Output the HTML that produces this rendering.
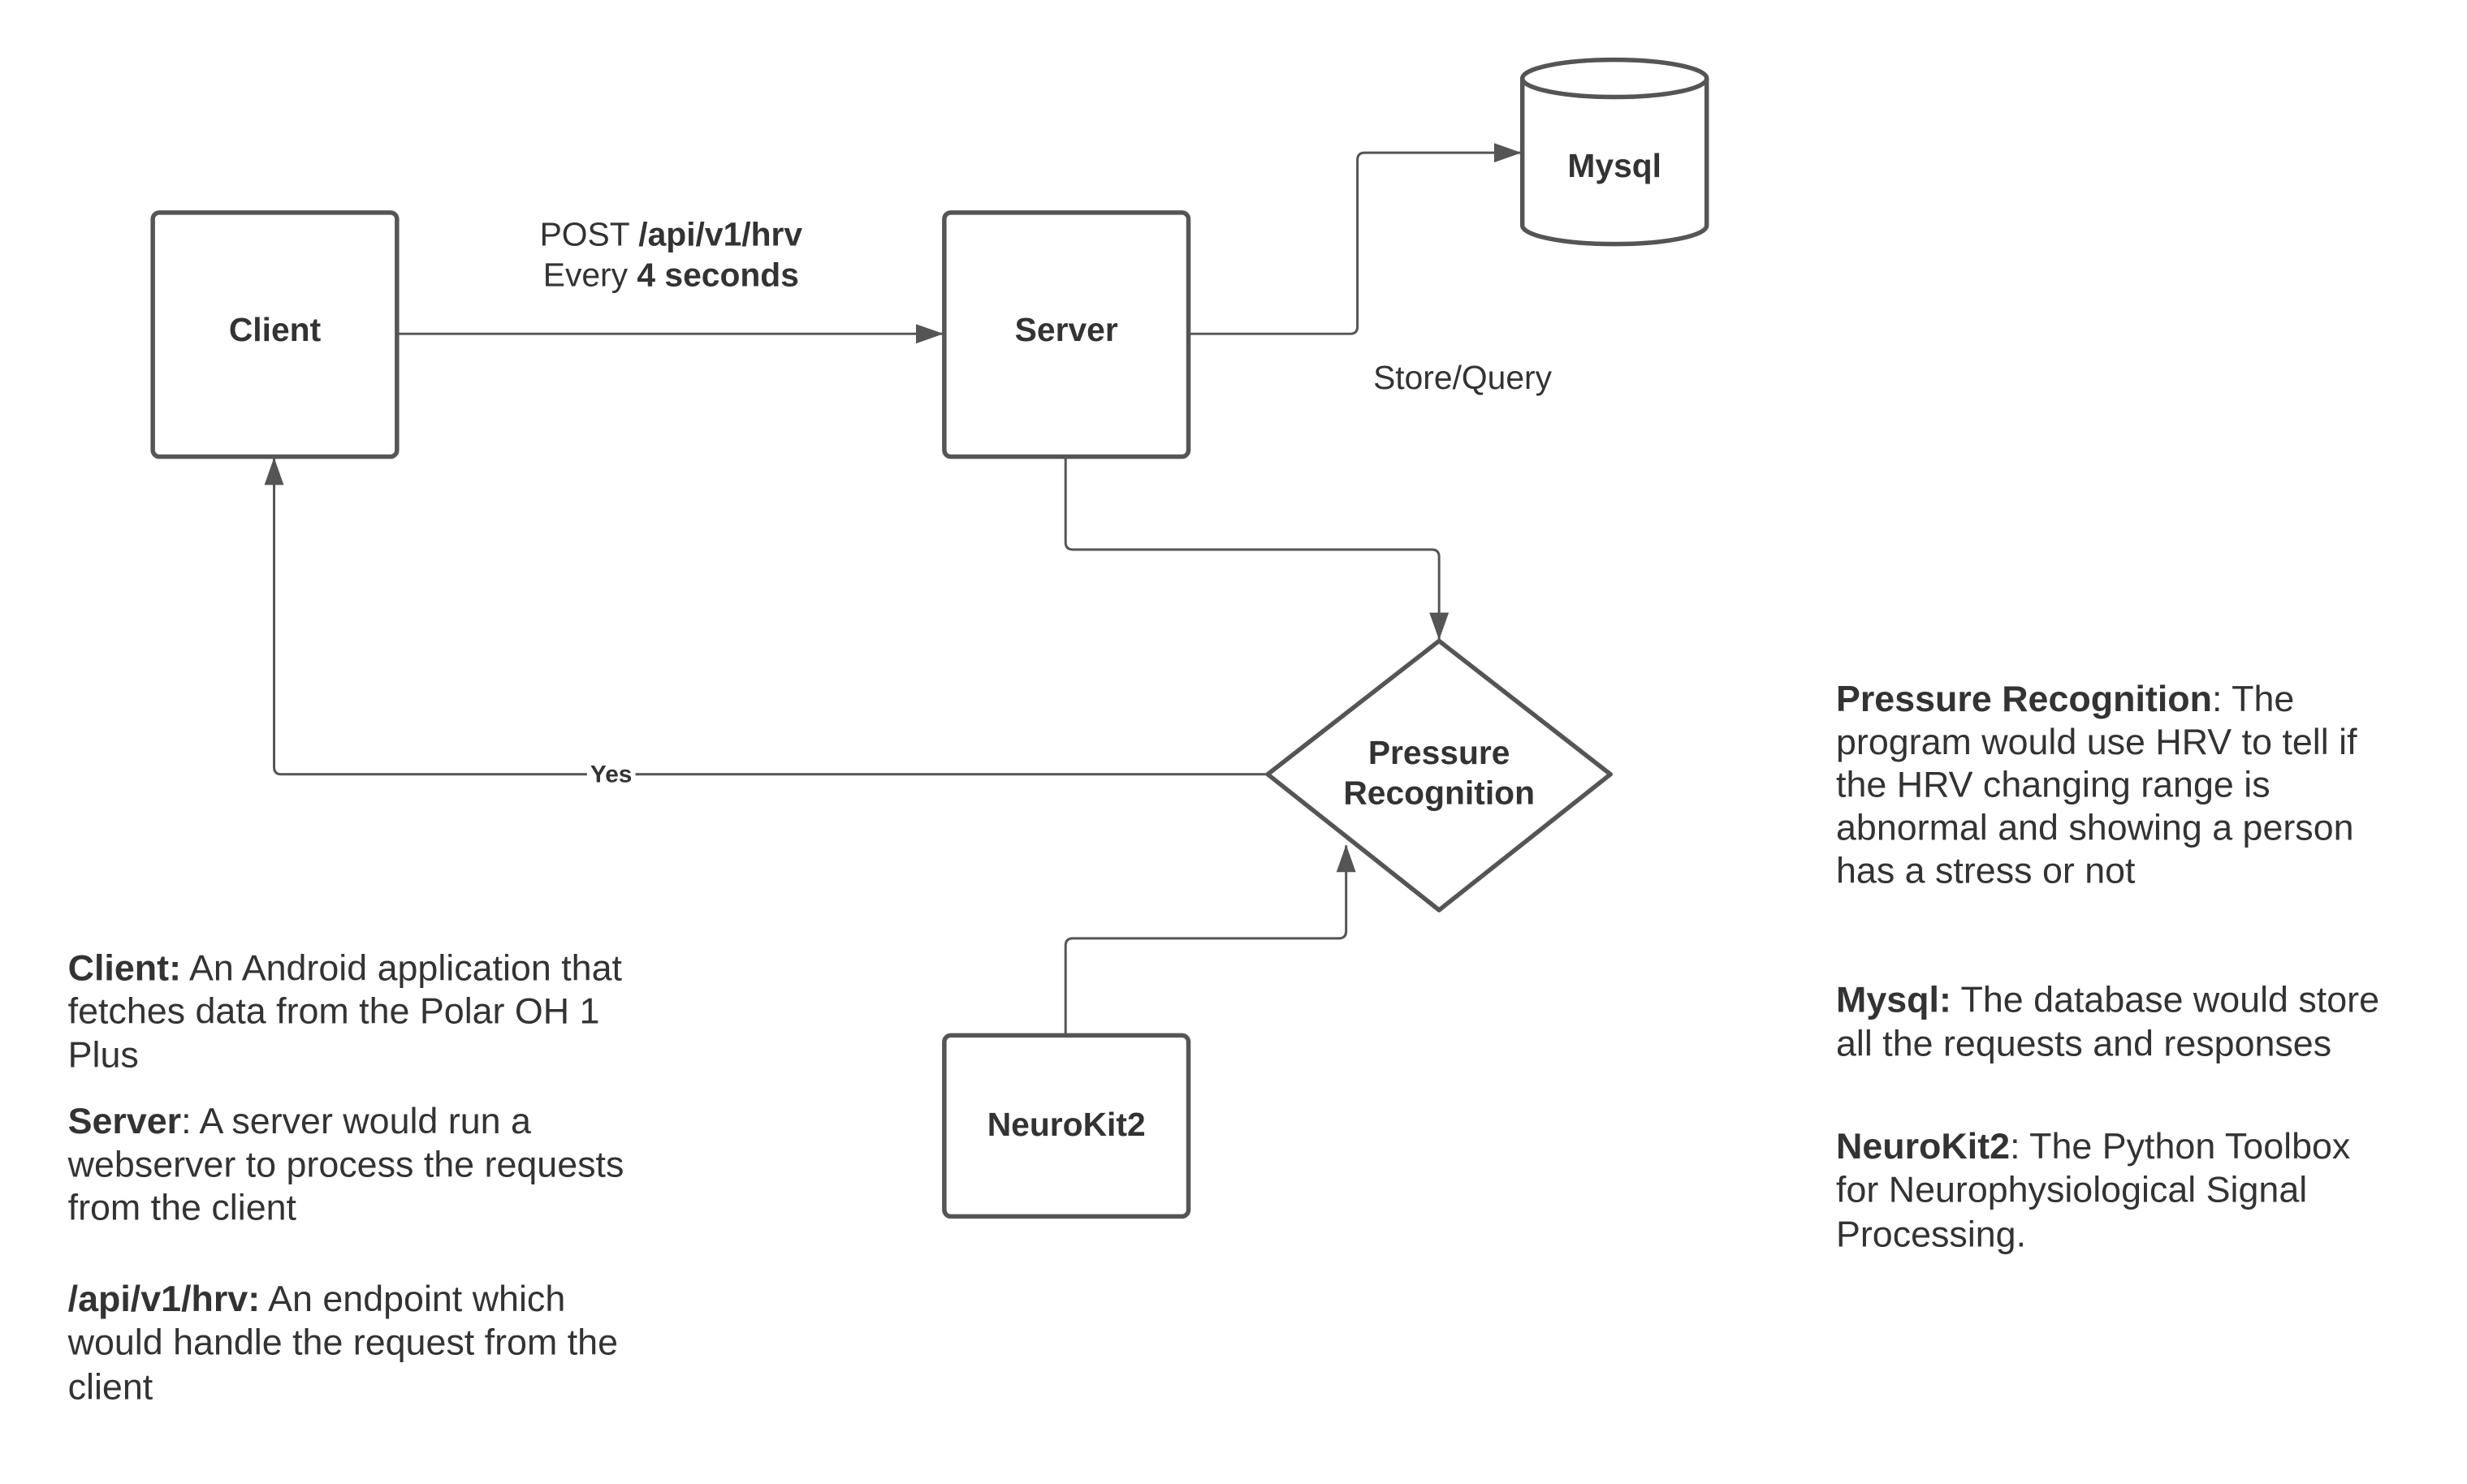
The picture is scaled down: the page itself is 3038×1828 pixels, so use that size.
<!DOCTYPE html>
<html><head><meta charset="utf-8"><style>
html,body{margin:0;padding:0;background:#fff;}
svg{display:block;}
text{font-family:"Liberation Sans",Arial,sans-serif;fill:#333;dominant-baseline:central;}
.n{font-weight:bold;font-size:41px;text-anchor:middle;}
.d{font-size:45px;}
</style></head><body>
<svg width="3038" height="1828" viewBox="0 0 3038 1828" xmlns="http://www.w3.org/2000/svg">
<defs>
<marker id="b" markerWidth="34" markerHeight="24" refX="33" refY="12" orient="auto" markerUnits="userSpaceOnUse"><path d="M0,0 L34,12 L0,24 z" fill="#555"/></marker></defs>
<g transform="scale(0.9956)">
<g fill="none" stroke="#555" stroke-width="3">
<path d="M491,413 H1166" marker-end="url(#b)"/>
<path d="M1470,413 H1670 Q1679,413 1679,404 V198 Q1679,189 1688,189 H1881" marker-end="url(#b)"/>
<path d="M1318,565 V671 Q1318,680 1327,680 H1771 Q1780,680 1780,689 V791" marker-end="url(#b)"/>
<path d="M1568,958 H348 Q339,958 339,949 V567" marker-end="url(#b)"/>
<path d="M1318,1281 V1170 Q1318,1161 1327,1161 H1656 Q1665,1161 1665,1152 V1046" marker-end="url(#b)"/>
</g>
<g fill="#fff" stroke="#555" stroke-width="5.5">
<rect x="189" y="263" width="302" height="302" rx="8"/>
<rect x="1168" y="263" width="302" height="302" rx="8"/>
<rect x="1168" y="1281" width="302" height="224" rx="8"/>
<path d="M1780,793 L1992,958 L1780,1126 L1568,958 Z" stroke-linejoin="round"/>
<path d="M1883,97 V279 A114,23 0 0 0 2111,279 V97"/>
<ellipse cx="1997" cy="97" rx="114" ry="23"/>
</g>
<rect x="726" y="944" width="60" height="28" fill="#fff"/>
<text x="756" y="958" style="font-size:30px;font-weight:bold;text-anchor:middle">Yes</text>
<text class="n" x="340" y="408">Client</text>
<text class="n" x="1319" y="408">Server</text>
<text class="n" x="1319" y="1391">NeuroKit2</text>
<text class="n" x="1997" y="205">Mysql</text>
<text class="n" x="1780" y="931">Pressure</text>
<text class="n" x="1780" y="981">Recognition</text>
<text x="830" y="290" style="font-size:41px;text-anchor:middle">POST <tspan font-weight="bold">/api/v1/hrv</tspan></text>
<text x="830" y="340" style="font-size:41px;text-anchor:middle">Every <tspan font-weight="bold">4 seconds</tspan></text>
<text x="1809" y="467" style="font-size:41px;text-anchor:middle">Store/Query</text>
<text class="d" x="84" y="1198"><tspan font-weight="bold">Client:</tspan> An Android application that</text>
<text class="d" x="84" y="1251">fetches data from the Polar OH 1</text>
<text class="d" x="84" y="1305">Plus</text>
<text class="d" x="84" y="1387"><tspan font-weight="bold">Server</tspan>: A server would run a</text>
<text class="d" x="84" y="1441">webserver to process the requests</text>
<text class="d" x="84" y="1494">from the client</text>
<text class="d" x="84" y="1607"><tspan font-weight="bold">/api/v1/hrv:</tspan>  An endpoint which</text>
<text class="d" x="84" y="1661">would handle the request from the</text>
<text class="d" x="84" y="1716">client</text>
<text class="d" x="2271" y="865"><tspan font-weight="bold">Pressure Recognition</tspan>: The</text>
<text class="d" x="2271" y="918">program would use HRV to tell if</text>
<text class="d" x="2271" y="971">the HRV changing range is</text>
<text class="d" x="2271" y="1024">abnormal and showing a person</text>
<text class="d" x="2271" y="1077">has a stress or not</text>
<text class="d" x="2271" y="1237"><tspan font-weight="bold">Mysql:</tspan> The database would store</text>
<text class="d" x="2271" y="1291">all the requests and responses</text>
<text class="d" x="2271" y="1418"><tspan font-weight="bold">NeuroKit2</tspan>: The Python Toolbox</text>
<text class="d" x="2271" y="1472">for Neurophysiological Signal</text>
<text class="d" x="2271" y="1527">Processing.</text>
</g>
</svg>
</body></html>
